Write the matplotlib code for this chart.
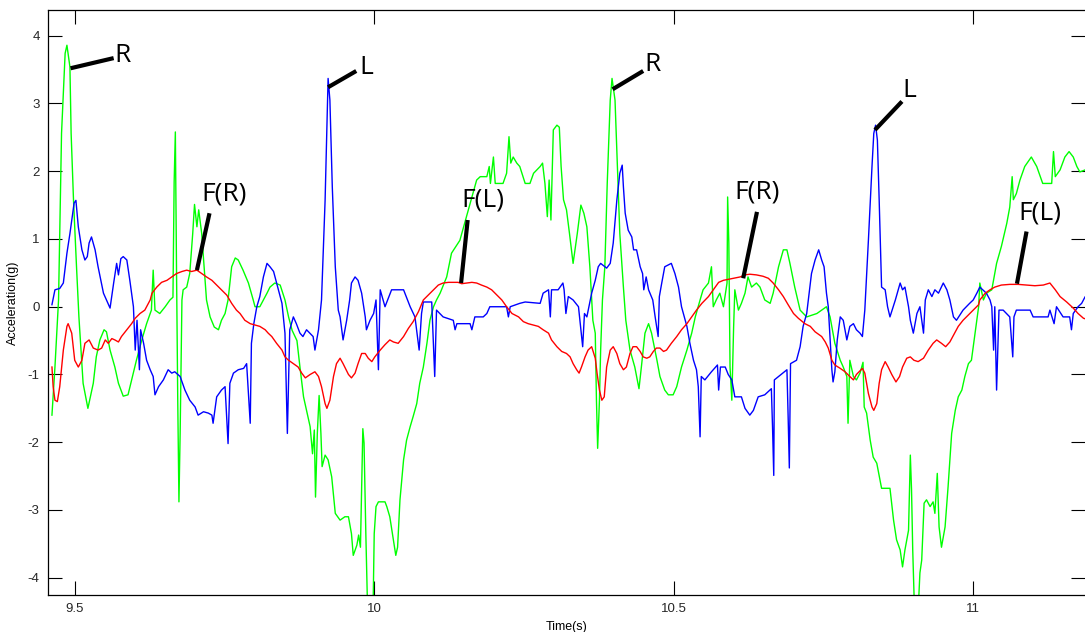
import matplotlib
matplotlib.use("Agg")
import matplotlib.pyplot as plt

plt.rcParams["axes.unicode_minus"] = False

# green trace
green_t = [9.462, 9.467, 9.473, 9.475, 9.478, 9.484, 9.487, 9.492, 9.494, 9.498,
           9.503, 9.507, 9.514, 9.522, 9.531, 9.536, 9.542, 9.549, 9.553, 9.559,
           9.567, 9.573, 9.581, 9.589, 9.595, 9.603, 9.612, 9.620, 9.628, 9.631,
           9.634, 9.642, 9.651, 9.659, 9.664, 9.666, 9.668, 9.670, 9.672, 9.674,
           9.676, 9.679, 9.681, 9.687, 9.692, 9.697, 9.700, 9.704, 9.707, 9.712,
           9.716, 9.720, 9.726, 9.733, 9.740, 9.745, 9.751, 9.756, 9.762, 9.768,
           9.773, 9.781, 9.790, 9.798, 9.801, 9.809, 9.815, 9.821, 9.826, 9.834,
           9.843, 9.851, 9.857, 9.863, 9.871, 9.876, 9.882, 9.887, 9.893, 9.897,
           9.900, 9.902, 9.905, 9.908, 9.911, 9.913, 9.918, 9.923, 9.929, 9.935,
           9.943, 9.951, 9.957, 9.962, 9.965, 9.971, 9.974, 9.977, 9.981, 9.983,
           9.986, 9.989, 9.998, 10.000, 10.003, 10.007, 10.018, 10.021, 10.026, 10.032,
           10.036, 10.039, 10.043, 10.049, 10.054, 10.060, 10.065, 10.071, 10.076, 10.082,
           10.088, 10.093, 10.099, 10.104, 10.110, 10.121, 10.129, 10.143, 10.154, 10.163,
           10.171, 10.177, 10.188, 10.192, 10.194, 10.199, 10.202, 10.215, 10.221, 10.225,
           10.228, 10.232, 10.238, 10.243, 10.252, 10.260, 10.266, 10.277, 10.281, 10.285,
           10.289, 10.292, 10.295, 10.299, 10.305, 10.309, 10.312, 10.316, 10.321, 10.326,
           10.332, 10.339, 10.345, 10.350, 10.355, 10.360, 10.365, 10.369, 10.371, 10.373,
           10.376, 10.378, 10.381, 10.385, 10.389, 10.394, 10.397, 10.402, 10.406, 10.410,
           10.416, 10.420, 10.427, 10.435, 10.442, 10.446, 10.452, 10.458, 10.463, 10.472,
           10.477, 10.485, 10.491, 10.499, 10.505, 10.513, 10.522, 10.530, 10.536, 10.544,
           10.549, 10.558, 10.563, 10.566, 10.571, 10.577, 10.583, 10.589, 10.590, 10.592,
           10.594, 10.597, 10.600, 10.602, 10.608, 10.613, 10.619, 10.624, 10.630, 10.638,
           10.644, 10.652, 10.661, 10.666, 10.675, 10.683, 10.689, 10.694, 10.702, 10.711,
           10.722, 10.739, 10.747, 10.755, 10.761, 10.769, 10.778, 10.783, 10.789, 10.791,
           10.794, 10.800, 10.805, 10.811, 10.816, 10.818, 10.822, 10.828, 10.833, 10.839,
           10.847, 10.861, 10.867, 10.872, 10.878, 10.882, 10.886, 10.892, 10.895, 10.897,
           10.899, 10.902, 10.908, 10.911, 10.914, 10.918, 10.922, 10.928, 10.933, 10.936,
           10.940, 10.943, 10.947, 10.953, 10.958, 10.964, 10.970, 10.975, 10.981, 10.986,
           10.992, 10.997, 11.003, 11.009, 11.011, 11.017, 11.022, 11.031, 11.039, 11.047,
           11.056, 11.061, 11.065, 11.067, 11.072, 11.078, 11.086, 11.097, 11.106, 11.116,
           11.131, 11.134, 11.137, 11.145, 11.153, 11.160, 11.167, 11.173, 11.178, 11.187,
           11.195]
green_v = [-1.60, -0.89, 0.10, 1.08, 2.56, 3.74, 3.86, 3.54, 2.56, 1.57,
           0.59, -0.15, -1.13, -1.50, -1.13, -0.74, -0.49, -0.34, -0.37, -0.64,
           -0.89, -1.13, -1.32, -1.30, -1.08, -0.79, -0.49, -0.25, -0.05, 0.54,
           -0.05, -0.10, 0.00, 0.10, 0.14, 1.84, 2.58, 0.50, -1.38, -2.88,
           -1.87, 0.10, 0.25, 0.29, 0.49, 1.08, 1.51, 1.18, 1.43, 1.08,
           0.59, 0.10, -0.15, -0.30, -0.34, -0.20, -0.10, 0.10, 0.59, 0.72,
           0.69, 0.54, 0.35, 0.10, 0.00, 0.00, 0.10, 0.20, 0.29, 0.35,
           0.32, 0.10, -0.15, -0.35, -0.50, -0.89, -1.33, -1.53, -1.77, -2.17,
           -1.82, -2.81, -1.87, -1.31, -1.87, -2.36, -2.19, -2.26, -2.51, -3.05,
           -3.15, -3.10, -3.10, -3.35, -3.67, -3.52, -3.37, -3.55, -1.80, -2.01,
           -3.35, -4.50, -4.50, -3.35, -2.95, -2.88, -2.88, -2.95, -3.10, -3.44,
           -3.67, -3.55, -2.85, -2.26, -1.97, -1.77, -1.62, -1.43, -1.13, -0.89,
           -0.54, -0.20, 0.00, 0.10, 0.20, 0.44, 0.79, 0.98, 1.33, 1.62,
           1.87, 1.92, 1.92, 2.07, 1.82, 2.21, 1.82, 1.82, 1.97, 2.51,
           2.12, 2.21, 2.12, 2.07, 1.82, 1.82, 1.97, 2.07, 2.12, 1.82,
           1.33, 1.87, 1.28, 2.61, 2.68, 2.65, 2.07, 1.58, 1.43, 1.08,
           0.64, 1.08, 1.50, 1.38, 1.18, 0.59, -0.20, -0.39, -1.38, -2.09,
           -1.38, -0.64, 0.10, 0.59, 1.82, 3.05, 3.37, 3.05, 2.07, 1.08,
           0.29, -0.20, -0.64, -0.89, -1.21, -0.89, -0.39, -0.25, -0.39, -0.79,
           -1.03, -1.23, -1.30, -1.30, -1.18, -0.89, -0.64, -0.39, -0.15, 0.10,
           0.25, 0.35, 0.59, 0.00, 0.10, 0.20, 0.00, 0.35, 1.62, 0.94,
           -0.89, -1.38, -0.30, 0.25, -0.05, 0.05, 0.20, 0.44, 0.29, 0.35,
           0.29, 0.10, 0.05, 0.20, 0.59, 0.84, 0.84, 0.64, 0.29, -0.05,
           -0.15, -0.10, -0.05, 0.00, -0.15, -0.54, -0.79, -0.89, -1.03, -1.72,
           -0.79, -1.03, -1.08, -0.98, -0.82, -1.48, -1.57, -1.97, -2.22, -2.31,
           -2.68, -2.68, -3.15, -3.44, -3.59, -3.84, -3.59, -3.30, -2.19, -2.70,
           -3.59, -4.50, -4.50, -3.93, -3.74, -2.90, -2.85, -2.95, -2.88, -3.05,
           -2.46, -3.25, -3.55, -3.25, -2.66, -1.87, -1.53, -1.33, -1.23, -1.03,
           -0.84, -0.79, -0.39, 0.00, 0.35, 0.10, 0.20, 0.25, 0.64, 0.89,
           1.23, 1.47, 1.92, 1.58, 1.67, 1.87, 2.07, 2.21, 2.07, 1.82,
           1.82, 2.29, 1.92, 2.02, 2.21, 2.29, 2.21, 2.07, 1.99, 2.02,
           2.00]

# blue trace
blue_t = [9.462, 9.467, 9.475, 9.481, 9.487, 9.492, 9.499, 9.502, 9.506, 9.512,
          9.517, 9.521, 9.524, 9.528, 9.534, 9.539, 9.548, 9.553, 9.559, 9.565,
          9.570, 9.573, 9.577, 9.581, 9.587, 9.592, 9.598, 9.601, 9.604, 9.608,
          9.610, 9.615, 9.620, 9.626, 9.631, 9.634, 9.640, 9.648, 9.656, 9.662,
          9.667, 9.676, 9.684, 9.692, 9.701, 9.706, 9.715, 9.723, 9.729, 9.731,
          9.737, 9.745, 9.751, 9.756, 9.759, 9.765, 9.773, 9.782, 9.787, 9.793,
          9.795, 9.799, 9.804, 9.809, 9.815, 9.821, 9.826, 9.832, 9.840, 9.846,
          9.851, 9.855, 9.859, 9.865, 9.870, 9.876, 9.881, 9.887, 9.898, 9.901,
          9.907, 9.912, 9.918, 9.922, 9.923, 9.926, 9.930, 9.935, 9.940, 9.943,
          9.948, 9.954, 9.959, 9.962, 9.968, 9.973, 9.979, 9.985, 9.987, 9.993,
          9.999, 10.003, 10.007, 10.010, 10.018, 10.029, 10.049, 10.060, 10.068, 10.075,
          10.079, 10.082, 10.096, 10.101, 10.104, 10.115, 10.132, 10.135, 10.138, 10.160,
          10.163, 10.168, 10.182, 10.188, 10.193, 10.221, 10.224, 10.227, 10.243, 10.252,
          10.277, 10.282, 10.291, 10.294, 10.296, 10.307, 10.315, 10.317, 10.320, 10.324,
          10.332, 10.341, 10.348, 10.351, 10.355, 10.363, 10.369, 10.374, 10.378, 10.388,
          10.394, 10.399, 10.405, 10.410, 10.414, 10.416, 10.419, 10.424, 10.430, 10.433,
          10.438, 10.444, 10.448, 10.450, 10.454, 10.458, 10.465, 10.469, 10.474, 10.476,
          10.480, 10.485, 10.496, 10.502, 10.508, 10.513, 10.522, 10.527, 10.533, 10.538,
          10.541, 10.544, 10.546, 10.552, 10.563, 10.573, 10.575, 10.578, 10.586, 10.591,
          10.597, 10.602, 10.613, 10.619, 10.627, 10.633, 10.641, 10.652, 10.663, 10.665,
          10.667, 10.668, 10.675, 10.689, 10.691, 10.693, 10.695, 10.705, 10.711, 10.716,
          10.722, 10.730, 10.736, 10.742, 10.747, 10.751, 10.755, 10.758, 10.764, 10.766,
          10.769, 10.773, 10.778, 10.783, 10.789, 10.794, 10.800, 10.805, 10.811, 10.815,
          10.819, 10.825, 10.831, 10.834, 10.837, 10.840, 10.843, 10.847, 10.853, 10.857,
          10.861, 10.870, 10.878, 10.882, 10.886, 10.892, 10.895, 10.900, 10.906, 10.911,
          10.917, 10.920, 10.925, 10.931, 10.936, 10.942, 10.950, 10.956, 10.961, 10.967,
          10.972, 10.983, 10.994, 11.000, 11.006, 11.011, 11.022, 11.028, 11.031, 11.034,
          11.036, 11.039, 11.041, 11.043, 11.050, 11.061, 11.066, 11.068, 11.072, 11.095,
          11.100, 11.125, 11.128, 11.135, 11.139, 11.150, 11.161, 11.164, 11.167, 11.175,
          11.181, 11.187, 11.195]
blue_v = [0.03, 0.25, 0.27, 0.35, 0.79, 1.08, 1.53, 1.57, 1.18, 0.84,
          0.69, 0.74, 0.94, 1.03, 0.84, 0.59, 0.20, 0.10, -0.02, 0.35,
          0.64, 0.47, 0.71, 0.74, 0.69, 0.39, 0.00, -0.64, -0.20, -0.93,
          -0.34, -0.54, -0.79, -0.93, -1.03, -1.30, -1.18, -1.08, -0.93, -0.98,
          -0.96, -1.03, -1.23, -1.38, -1.48, -1.60, -1.55, -1.57, -1.60, -1.72,
          -1.33, -1.23, -1.18, -2.02, -1.13, -0.98, -0.93, -0.91, -0.84, -1.72,
          -0.54, -0.25, 0.00, 0.15, 0.44, 0.64, 0.59, 0.52, 0.25, 0.05,
          -0.39, -1.87, -0.34, -0.15, -0.25, -0.39, -0.44, -0.34, -0.44, -0.64,
          -0.34, 0.10, 1.57, 3.05, 3.37, 3.05, 1.77, 0.59, -0.05, -0.15,
          -0.49, -0.20, 0.10, 0.35, 0.44, 0.39, 0.20, -0.15, -0.34, -0.20,
          -0.10, 0.10, -0.93, 0.25, 0.00, 0.25, 0.25, 0.00, -0.15, -0.64,
          -0.10, 0.07, 0.07, -1.03, -0.05, -0.15, -0.20, -0.34, -0.25, -0.25,
          -0.34, -0.15, -0.15, -0.10, 0.00, 0.00, -0.15, 0.00, 0.05, 0.07,
          0.05, 0.20, 0.25, -0.15, 0.25, 0.25, 0.35, 0.25, -0.10, 0.15,
          0.10, 0.00, -0.59, -0.10, -0.15, 0.20, 0.39, 0.59, 0.64, 0.57,
          0.64, 0.94, 1.57, 1.97, 2.09, 1.77, 1.38, 1.13, 1.03, 0.84,
          0.84, 0.59, 0.49, 0.25, 0.44, 0.25, 0.10, -0.15, -0.44, 0.15,
          0.35, 0.59, 0.64, 0.49, 0.29, 0.00, -0.29, -0.54, -0.79, -0.93,
          -1.18, -1.92, -1.03, -1.08, -0.96, -0.86, -1.23, -0.89, -0.89, -1.00,
          -1.08, -1.33, -1.33, -1.50, -1.60, -1.53, -1.33, -1.30, -1.21, -1.79,
          -2.49, -1.08, -1.03, -0.93, -1.62, -2.38, -0.84, -0.79, -0.59, -0.29,
          -0.10, 0.49, 0.69, 0.84, 0.69, 0.59, 0.20, 0.00, -0.93, -1.11,
          -0.96, -0.49, -0.15, -0.20, -0.49, -0.29, -0.25, -0.34, -0.39, -0.44,
          -0.05, 0.98, 2.07, 2.56, 2.68, 2.46, 1.57, 0.29, 0.25, 0.00,
          -0.15, 0.10, 0.35, 0.25, 0.29, 0.00, -0.20, -0.39, -0.10, 0.00,
          -0.39, 0.10, 0.25, 0.15, 0.25, 0.20, 0.35, 0.25, 0.10, -0.15,
          -0.20, -0.05, 0.05, 0.10, 0.20, 0.29, 0.20, 0.10, 0.00, -0.64,
          0.00, -1.23, -0.64, -0.05, -0.05, -0.15, -0.74, -0.15, -0.05, -0.05,
          -0.15, -0.15, -0.05, -0.25, 0.00, -0.15, -0.15, -0.34, -0.10, 0.00,
          0.05, 0.15, 0.15]

# red trace
red_t = [9.462, 9.464, 9.467, 9.471, 9.475, 9.481, 9.487, 9.489, 9.495, 9.500,
         9.506, 9.512, 9.517, 9.524, 9.531, 9.539, 9.545, 9.551, 9.556, 9.562,
         9.567, 9.573, 9.578, 9.587, 9.595, 9.601, 9.609, 9.617, 9.626, 9.629,
         9.637, 9.645, 9.654, 9.662, 9.670, 9.679, 9.687, 9.695, 9.704, 9.712,
         9.720, 9.729, 9.737, 9.745, 9.754, 9.762, 9.770, 9.776, 9.784, 9.793,
         9.801, 9.809, 9.818, 9.823, 9.829, 9.837, 9.846, 9.851, 9.857, 9.865,
         9.873, 9.879, 9.885, 9.893, 9.901, 9.907, 9.912, 9.918, 9.921, 9.926,
         9.932, 9.937, 9.943, 9.948, 9.957, 9.962, 9.968, 9.973, 9.979, 9.985,
         9.990, 9.996, 10.001, 10.010, 10.018, 10.026, 10.032, 10.040, 10.049, 10.057,
         10.065, 10.074, 10.082, 10.090, 10.099, 10.107, 10.115, 10.124, 10.140, 10.146,
         10.154, 10.163, 10.171, 10.179, 10.188, 10.196, 10.205, 10.213, 10.221, 10.230,
         10.241, 10.249, 10.257, 10.274, 10.282, 10.291, 10.296, 10.305, 10.313, 10.321,
         10.327, 10.332, 10.338, 10.342, 10.346, 10.352, 10.357, 10.363, 10.369, 10.372,
         10.376, 10.380, 10.384, 10.388, 10.394, 10.399, 10.405, 10.410, 10.416, 10.421,
         10.427, 10.432, 10.438, 10.444, 10.449, 10.455, 10.460, 10.466, 10.471, 10.477,
         10.483, 10.488, 10.496, 10.505, 10.513, 10.522, 10.530, 10.538, 10.547, 10.558,
         10.566, 10.575, 10.583, 10.600, 10.611, 10.619, 10.627, 10.638, 10.649, 10.658,
         10.666, 10.675, 10.683, 10.691, 10.700, 10.708, 10.719, 10.728, 10.736, 10.747,
         10.753, 10.758, 10.764, 10.769, 10.778, 10.786, 10.794, 10.800, 10.805, 10.815,
         10.819, 10.825, 10.831, 10.834, 10.839, 10.843, 10.847, 10.853, 10.858, 10.864,
         10.871, 10.877, 10.882, 10.889, 10.895, 10.901, 10.908, 10.917, 10.925, 10.933,
         10.939, 10.947, 10.954, 10.961, 10.967, 10.975, 10.983, 10.992, 11.000, 11.009,
         11.011, 11.020, 11.028, 11.036, 11.047, 11.061, 11.075, 11.089, 11.103, 11.117,
         11.128, 11.137, 11.145, 11.156, 11.167, 11.175, 11.184, 11.195]
red_v = [-0.89, -1.18, -1.38, -1.40, -1.18, -0.64, -0.29, -0.25, -0.39, -0.79,
         -0.89, -0.79, -0.54, -0.49, -0.61, -0.64, -0.61, -0.49, -0.54, -0.47,
         -0.49, -0.52, -0.44, -0.34, -0.25, -0.17, -0.10, -0.05, 0.10, 0.20,
         0.29, 0.36, 0.39, 0.44, 0.49, 0.52, 0.54, 0.52, 0.54, 0.49,
         0.44, 0.39, 0.32, 0.25, 0.17, 0.05, -0.05, -0.10, -0.20, -0.25,
         -0.27, -0.29, -0.34, -0.39, -0.44, -0.54, -0.64, -0.74, -0.79, -0.84,
         -0.89, -0.98, -1.05, -1.00, -0.96, -1.03, -1.18, -1.43, -1.50, -1.38,
         -1.03, -0.84, -0.76, -0.84, -1.00, -1.05, -0.98, -0.84, -0.69, -0.69,
         -0.76, -0.81, -0.74, -0.64, -0.56, -0.49, -0.52, -0.54, -0.44, -0.32,
         -0.22, -0.07, 0.10, 0.17, 0.25, 0.32, 0.35, 0.36, 0.36, 0.34,
         0.35, 0.36, 0.35, 0.32, 0.29, 0.25, 0.17, 0.10, 0.00, -0.10,
         -0.15, -0.22, -0.25, -0.29, -0.34, -0.39, -0.49, -0.59, -0.66, -0.69,
         -0.74, -0.84, -0.93, -0.98, -0.89, -0.74, -0.64, -0.59, -0.76, -0.98,
         -1.23, -1.38, -1.33, -0.89, -0.64, -0.59, -0.69, -0.84, -0.93, -0.89,
         -0.69, -0.59, -0.59, -0.66, -0.74, -0.76, -0.74, -0.66, -0.61, -0.61,
         -0.66, -0.64, -0.54, -0.44, -0.34, -0.25, -0.15, -0.05, 0.05, 0.15,
         0.25, 0.36, 0.39, 0.42, 0.44, 0.47, 0.48, 0.47, 0.45, 0.42,
         0.35, 0.25, 0.15, 0.03, -0.10, -0.17, -0.25, -0.29, -0.37, -0.44,
         -0.52, -0.61, -0.79, -0.86, -0.91, -0.96, -1.03, -1.08, -1.00, -0.91,
         -0.98, -1.28, -1.48, -1.53, -1.43, -1.13, -0.93, -0.81, -0.89, -1.00,
         -1.11, -1.03, -0.89, -0.76, -0.74, -0.79, -0.81, -0.76, -0.64, -0.54,
         -0.49, -0.54, -0.59, -0.52, -0.42, -0.29, -0.20, -0.12, -0.05, 0.03,
         0.10, 0.20, 0.25, 0.29, 0.32, 0.33, 0.33, 0.32, 0.31, 0.32,
         0.35, 0.25, 0.15, 0.07, -0.02, -0.10, -0.17, -0.20]

# step annotations: label, peak point, line end, text anchor (left, middle)
labels = ["R", "L", "F(R)", "F(L)", "R", "F(R)", "L", "F(L)"]
peak_t = [9.493, 9.923, 9.704, 10.145, 10.398, 10.616, 10.836, 11.073]
peak_v = [3.52, 3.24, 0.54, 0.35, 3.21, 0.42, 2.61, 0.34]
end_t = [9.565, 9.970, 9.725, 10.156, 10.449, 10.639, 10.881, 11.089]
end_v = [3.67, 3.48, 1.38, 1.28, 3.48, 1.40, 3.03, 1.11]
text_t = [9.566, 9.975, 9.712, 10.146, 10.451, 10.601, 10.881, 11.076]
text_v = [3.71, 3.53, 1.67, 1.57, 3.57, 1.70, 3.19, 1.39]

fig = plt.figure(figsize=(10.85, 6.32), dpi=100)
ax = fig.add_axes([48 / 1085, 1 - 595 / 632, 1 - 48 / 1085, 585 / 632])

ax.plot(green_t, green_v, color="#00ff00", lw=1.0)
ax.plot(blue_t, blue_v, color="#0000ff", lw=1.0)
ax.plot(red_t, red_v, color="#ff0000", lw=1.0)

for lab, pt, pv, et, ev, tt, tv in zip(labels, peak_t, peak_v, end_t, end_v, text_t, text_v):
    ax.plot([pt, et], [pv, ev], color="black", lw=3, solid_capstyle="butt")
    ax.text(tt, tv, lab, ha="left", va="center", fontsize=19,
            family="Open Sans", color="black")

ax.set_xlim(9.4554, 11.1866)
ax.set_ylim(-4.255, 4.38)
ax.set_xticks([9.5, 10, 10.5, 11])
ax.set_xticklabels(["9.5", "10", "10.5", "11"])
ax.set_yticks([-4, -3, -2, -1, 0, 1, 2, 3, 4])
ax.tick_params(direction="in", length=10, width=0.8, top=True, right=True,
               labelsize=9.5, labelcolor="#262626", pad=6)
for s in ["left", "bottom", "top"]:
    ax.spines[s].set_linewidth(0.9)
ax.spines["right"].set_visible(False)

ax.set_xlabel("Time(s)", fontsize=9, family="Liberation Sans", labelpad=4)
ax.set_ylabel("Acceleration(g)", fontsize=9, family="Liberation Sans", labelpad=6)
for lb in ax.get_xticklabels() + ax.get_yticklabels():
    lb.set_family("Liberation Sans")

fig.savefig("out.png", dpi=100)
